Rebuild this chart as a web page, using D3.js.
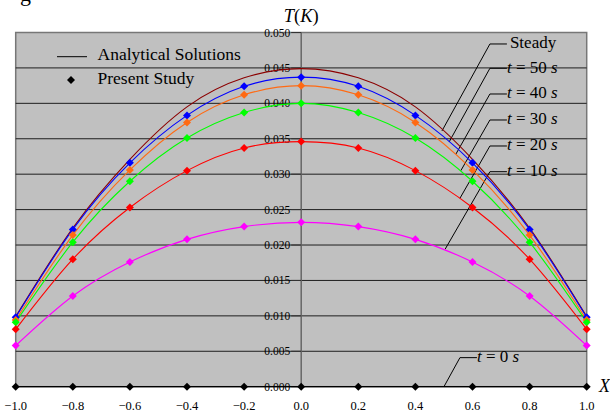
<html>
    <head>
        <title>T(K) vs X</title>
        <script src="https://d3js.org/d3.v7.min.js" charset="utf-8"></script>
        <style>
            body { margin: 0; background: #fff; }
            svg text { font-family: "Liberation Serif", "Times New Roman", serif; fill: #000; }
        </style>
    </head>
    <body>
        <div id="chartcontainer"></div>
        <script type="text/javascript">

        // positions along the slab (present study nodes)
        var xValues = [-1.0, -0.8, -0.6, -0.4, -0.2, 0.0, 0.2, 0.4, 0.6, 0.8, 1.0];
        // temperature values
        var steady = [0.0099, 0.0224, 0.0321, 0.0395, 0.0436, 0.0449, 0.0436, 0.0395, 0.0321, 0.0224, 0.0099];
        var t50 = [0.0098, 0.0222, 0.0316, 0.0383, 0.0424, 0.0437, 0.0424, 0.0383, 0.0316, 0.0222, 0.0098];
        var t40 = [0.0094, 0.0214, 0.0306, 0.0373, 0.0412, 0.0425, 0.0412, 0.0373, 0.0306, 0.0214, 0.0094];
        var t30 = [0.0091, 0.0204, 0.0290, 0.0351, 0.0387, 0.0400, 0.0387, 0.0351, 0.0290, 0.0204, 0.0091];
        var t20 = [0.0081, 0.0180, 0.0253, 0.0305, 0.0337, 0.0346, 0.0337, 0.0305, 0.0253, 0.0180, 0.0081];
        var t10 = [0.0058, 0.0128, 0.0176, 0.0208, 0.0226, 0.0232, 0.0226, 0.0208, 0.0176, 0.0128, 0.0058];
        var t0 = [0, 0, 0, 0, 0, 0, 0, 0, 0, 0, 0];

        var xTicks = [-1.0, -0.8, -0.6, -0.4, -0.2, 0.0, 0.2, 0.4, 0.6, 0.8, 1.0];
        var yTicks = [0.000, 0.005, 0.010, 0.015, 0.020, 0.025, 0.030, 0.035, 0.040, 0.045, 0.050];

        // series: values, colour, markers or not
        var series = [
            { name: "Steady", values: steady, color: "#8b0000", markers: false },
            { name: "t50", values: t50, color: "#0000ff", markers: true },
            { name: "t40", values: t40, color: "#ff6a13", markers: true },
            { name: "t30", values: t30, color: "#00ff00", markers: true },
            { name: "t20", values: t20, color: "#ff0000", markers: true },
            { name: "t10", values: t10, color: "#ff00ff", markers: true },
            { name: "t0", values: t0, color: "#000000", markers: true }
        ];

        // leader labels: label anchor (X, T) and target point on the curve (X, T)
        var leaders = [
            { label: ["Steady"], lx: 0.661, ly: 0.04838, tx: 0.493, ty: 0.0361 },
            { label: ["t", " = 50 ", "s"], lx: 0.661, ly: 0.04495, tx: 0.518, ty: 0.03454 },
            { label: ["t", " = 40 ", "s"], lx: 0.661, ly: 0.04132, tx: 0.542, ty: 0.03285 },
            { label: ["t", " = 30 ", "s"], lx: 0.661, ly: 0.03765, tx: 0.559, ty: 0.03049 },
            { label: ["t", " = 20 ", "s"], lx: 0.661, ly: 0.03398, tx: 0.556, ty: 0.0266 },
            { label: ["t", " = 10 ", "s"], lx: 0.661, ly: 0.03035, tx: 0.504, ty: 0.0194 },
            { label: ["t", " = 0 ", "s"], lx: 0.556, ly: 0.0041, tx: 0.500, ty: 0.0 }
        ];

        var width = 610, height = 414;
        var svg = d3.select("#chartcontainer").append("svg")
            .attr("width", width)
            .attr("height", height);

        var x = d3.scaleLinear().domain([-1, 1]).range([15.7, 586.7]);
        var y = d3.scaleLinear().domain([0, 0.05]).range([386.7, 32.5]);

        // cut-off caption from the page above
        svg.append("text")
            .attr("x", 20).attr("y", 1)
            .style("font-size", "22px")
            .text("g");

        // plot area
        svg.append("rect")
            .attr("x", x(-1)).attr("y", y(0.05))
            .attr("width", x(1) - x(-1)).attr("height", y(0) - y(0.05))
            .attr("fill", "#c0c0c0")
            .attr("stroke", "#777")
            .attr("stroke-width", 1.5);

        // horizontal grid lines
        svg.selectAll(".grid").data(yTicks.filter(function(d) { return d > 0 && d < 0.05; }))
            .enter().append("line")
            .attr("x1", x(-1)).attr("x2", x(1))
            .attr("y1", function(d) { return y(d); })
            .attr("y2", function(d) { return y(d); })
            .attr("stroke", "#1e1e1e")
            .attr("stroke-width", 1);

        // y axis through X = 0
        svg.append("line")
            .attr("x1", x(0)).attr("x2", x(0))
            .attr("y1", y(0.05)).attr("y2", y(0))
            .attr("stroke", "#666")
            .attr("stroke-width", 1.5);
        svg.selectAll(".ytick").data(yTicks).enter().append("line")
            .attr("x1", x(0) - 10).attr("x2", x(0))
            .attr("y1", function(d) { return y(d); })
            .attr("y2", function(d) { return y(d); })
            .attr("stroke", "#333")
            .attr("stroke-width", 1);
        svg.selectAll(".ylab").data(yTicks).enter().append("text")
            .attr("x", x(0) - 11)
            .attr("y", function(d) { return y(d); })
            .attr("dy", "0.35em")
            .style("text-anchor", "end")
            .style("font-size", "11.5px")
            .text(function(d) { return d3.format(".3f")(d); });

        // x axis line (T = 0)
        svg.append("line")
            .attr("x1", x(-1)).attr("x2", x(1))
            .attr("y1", y(0)).attr("y2", y(0))
            .attr("stroke", "#000")
            .attr("stroke-width", 1.2);
        svg.selectAll(".xlab").data(xTicks).enter().append("text")
            .attr("x", function(d) { return x(d); })
            .attr("y", 410)
            .style("text-anchor", "middle")
            .style("font-size", "12.5px")
            .text(function(d) { return d3.format(".1f")(d); });

        // axis titles
        var tt = svg.append("text")
            .attr("x", x(0)).attr("y", 22)
            .style("text-anchor", "middle")
            .style("font-size", "18.5px");
        tt.append("tspan").style("font-style", "italic").text("T");
        tt.append("tspan").text("(");
        tt.append("tspan").style("font-style", "italic").text("K");
        tt.append("tspan").text(")");
        svg.append("text")
            .attr("x", 599).attr("y", y(0) + 5)
            .style("font-size", "18px")
            .style("font-style", "italic")
            .text("X");

        // leader lines
        leaders.forEach(function(d) {
            var px = x(d.lx), py = y(d.ly);
            svg.append("polyline")
                .attr("points", [[x(d.tx), y(d.ty)], [px, py], [px + 17, py]].map(function(p) { return p.join(","); }).join(" "))
                .attr("fill", "none")
                .attr("stroke", "#000")
                .attr("stroke-width", 1);
            var t = svg.append("text")
                .attr("x", px + (d.label.length == 1 ? 20 : 17))
                .attr("y", py + 4.3)
                .style("font-size", "17px");
            d.label.forEach(function(s, i) {
                t.append("tspan")
                    .style("font-style", (d.label.length == 3 && i != 1) ? "italic" : "normal")
                    .text(s);
            });
        });

        // analytical curves
        var line = d3.line()
            .x(function(d, i) { return x(xValues[i]); })
            .y(function(d) { return y(d); })
            .curve(d3.curveNatural);
        series.forEach(function(s) {
            if (s.name == "t0") return;
            svg.append("path")
                .attr("d", line(s.values))
                .attr("fill", "none")
                .attr("stroke", s.color)
                .attr("stroke-width", 1.1);
        });

        // present study markers
        var diamond = function(r) { return "M0," + (-r) + "L" + r + ",0L0," + r + "L" + (-r) + ",0Z"; };
        series.forEach(function(s) {
            if (!s.markers) return;
            svg.selectAll(null).data(s.values).enter().append("path")
                .attr("transform", function(d, i) { return "translate(" + x(xValues[i]) + "," + y(d) + ")"; })
                .attr("d", diamond(4))
                .attr("fill", s.color);
        });

        // legend
        svg.append("line")
            .attr("x1", 57).attr("x2", 87)
            .attr("y1", 56.7).attr("y2", 56.7)
            .attr("stroke", "#000").attr("stroke-width", 1);
        svg.append("text").attr("x", 97.5).attr("y", 59.5)
            .style("font-size", "17.5px").text("Analytical Solutions");
        svg.append("path")
            .attr("transform", "translate(71,80)")
            .attr("d", diamond(4)).attr("fill", "#000");
        svg.append("text").attr("x", 97.5).attr("y", 83.5)
            .style("font-size", "17.5px").text("Present Study");

        </script>
    </body>
</html>
